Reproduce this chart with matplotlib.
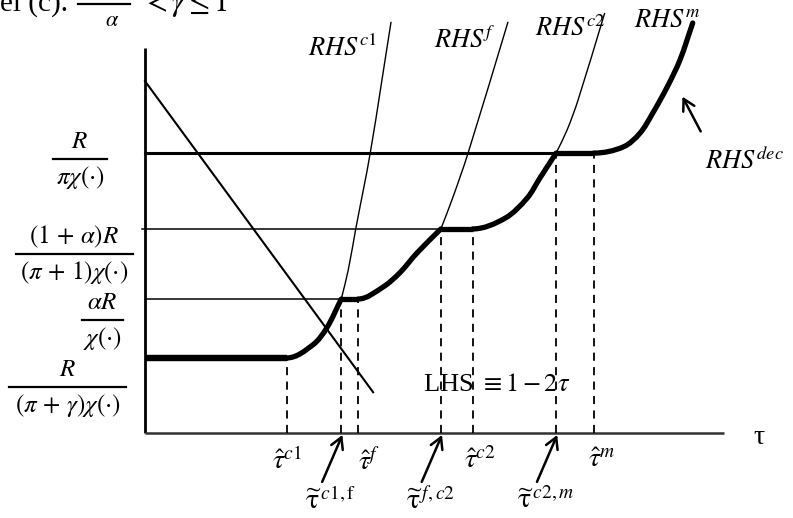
import numpy as np
import matplotlib.pyplot as plt
from matplotlib.path import Path
from matplotlib.patches import PathPatch

plt.rcParams['mathtext.fontset'] = 'stix'
plt.rcParams['font.family'] = ['Liberation Serif', 'DejaVu Serif']

# levels on the vertical axis, bottom to top
level_num = ['$R$', r'$\alpha R$', r'$(1\,+\,\alpha)R$', '$R$']
level_den = [r'$(\pi\,+\,\gamma)\chi(\cdot)$', r'$\chi(\cdot)$',
             r'$(\pi\,+\,1)\chi(\cdot)$', r'$\pi\chi(\cdot)$']
levels = [0.195, 0.348, 0.530, 0.727]

# thresholds on the tau axis
tau_hat = [0.245, 0.368, 0.566, 0.775]
tau_hat_tags = ['c1', 'f', 'c2', 'm']
tau_tilde = [0.339, 0.511, 0.710]
tau_tilde_tags = [r'c1,\mathrm{f}', 'f,c2', 'c2,m']

# LHS = 1 - 2 tau
lhs_tau = [0.0, 0.394]
lhs_val = [0.914, 0.106]

# RHS curves, read along each curve from where it leaves its plateau
rhs_c1_tau = [0.245, 0.290, 0.314, 0.339, 0.351, 0.364, 0.389, 0.425]
rhs_c1_val = [0.195, 0.229, 0.273, 0.348, 0.423, 0.530, 0.727, 1.068]
rhs_f_tau = [0.368, 0.411, 0.440, 0.470, 0.511, 0.532, 0.558, 0.627]
rhs_f_val = [0.348, 0.379, 0.416, 0.468, 0.530, 0.613, 0.727, 1.068]
rhs_c2_tau = [0.566, 0.622, 0.660, 0.682, 0.710, 0.729, 0.748, 0.794]
rhs_c2_val = [0.530, 0.558, 0.610, 0.662, 0.727, 0.787, 0.865, 1.091]
rhs_m_tau = [0.775, 0.826, 0.855, 0.877, 0.902, 0.924, 0.946]
rhs_m_val = [0.727, 0.743, 0.779, 0.831, 0.899, 0.969, 1.065]

# pixels per data unit, so tangents are taken in screen space
SCALE = np.array([579.0, 385.0])


def curve_path(xs, ys, flat_start):
    # cubic bezier pieces through the points; optionally leave the plateau flat
    p = np.column_stack([xs, ys]) * SCALE
    d = np.zeros_like(p)
    d[1:-1] = p[2:] - p[:-2]
    d[0] = [1.0, 0.0] if flat_start else p[1] - p[0]
    d[-1] = p[-1] - p[-2]
    d /= np.linalg.norm(d, axis=1)[:, None]
    verts = [p[0]]
    codes = [Path.MOVETO]
    for i in range(len(p) - 1):
        seg = np.linalg.norm(p[i + 1] - p[i]) / 3
        verts += [p[i] + d[i] * seg, p[i + 1] - d[i + 1] * seg, p[i + 1]]
        codes += [Path.CURVE4] * 3
    return Path(np.array(verts) / SCALE, codes)


fig = plt.figure(figsize=(7.93, 5.18), dpi=100)
ax = fig.add_axes([0, 0, 1, 1])
ax.set_xlim(-0.2504, 1.1192)
ax.set_ylim(-0.2208, 1.1247)
ax.axis('off')

# axes
ax.plot([0, 0], [0, 1], color='black', lw=2.0, solid_capstyle='butt')
ax.plot([0, 1.0], [0, 0], color='#333333', lw=1.8, solid_capstyle='butt')
ax.text(1.06, -0.013, 'τ', fontsize=20, ha='center', va='center')

# horizontal level lines
ax.plot([0, tau_tilde[0]], [levels[1]] * 2, color='black', lw=1.1)
ax.plot([-0.006, tau_tilde[1]], [levels[2]] * 2, color='black', lw=1.1)
ax.plot([0, tau_tilde[2]], [levels[3]] * 2, color='black', lw=2.2)

# LHS
ax.plot(lhs_tau, lhs_val, color='black', lw=1.5)

# dashed drop lines
drops = list(zip(tau_hat, levels)) + list(zip(tau_tilde, levels[1:]))
for t, lv in drops:
    ax.plot([t, t], [0, lv], color='black', lw=1.3, ls=(0, (4.5, 3.5)))

# RHS curves: thick up to the crossing, thin beyond
curves = [(rhs_c1_tau, rhs_c1_val, 3), (rhs_f_tau, rhs_f_val, 4),
          (rhs_c2_tau, rhs_c2_val, 4), (rhs_m_tau, rhs_m_val, len(rhs_m_tau) - 1)]
for xs, ys, k in curves:
    ax.add_patch(PathPatch(curve_path(xs[:k + 1], ys[:k + 1], True), fill=False,
                           lw=3.8, capstyle='round', joinstyle='round'))
    if k < len(xs) - 1:
        ax.add_patch(PathPatch(curve_path(xs[k:], ys[k:], False), fill=False, lw=1.0))

# plateaus of RHS^dec
starts = [0] + tau_tilde
for a, b, lv in zip(starts, tau_hat, levels):
    ax.plot([a, b], [lv, lv], color='black', lw=3.8 if a > 0 else 4.6,
            solid_capstyle='butt')

# curve labels
ax.text(0.342, 1.0, '$RHS^{c1}$', fontsize=19, ha='center', va='center')
ax.text(0.553, 1.021, '$RHS^{f}$', fontsize=19, ha='center', va='center')
ax.text(0.734, 1.052, '$RHS^{c2}$', fontsize=19, ha='center', va='center')
ax.text(0.903, 1.070, '$RHS^{m}$', fontsize=19, ha='center', va='center')
ax.text(0.968, 0.709, '$RHS^{dec}$', fontsize=19, ha='left', va='center')
ax.annotate('', xy=(0.926, 0.880), xytext=(0.962, 0.777),
            arrowprops=dict(arrowstyle='->,head_length=0.8,head_width=0.45', lw=1.8))
ax.text(0.608, 0.125, r'LHS $\equiv 1 - 2\tau$', fontsize=19, ha='center', va='center')

# tau labels
hat_shift = [0.0, 0.019, 0.012, 0.014]
for t, tag, s in zip(tau_hat, tau_hat_tags, hat_shift):
    ax.text(t + s, -0.072, r'$\hat{\tau}^{%s}$' % tag,
            fontsize=20, ha='center', va='center')
for t, tag in zip(tau_tilde, tau_tilde_tags):
    ax.text(t - 0.018, -0.176, r'$\widetilde{\mathrm{\tau}}^{\,%s}$' % tag,
            fontsize=20, ha='center', va='center')
    ax.annotate('', xy=(t + 0.002, -0.005), xytext=(t - 0.033, -0.127),
                arrowprops=dict(arrowstyle='->,head_length=0.8,head_width=0.45',
                                lw=1.8, shrinkA=0, shrinkB=0))

# vertical axis labels as stacked fractions
lab_x = [67.5, 102.5, 74.5, 80]
bar_w = [117, 41, 117, 54]
bar_y = [387, 320, 254, 159]
for num, den, cx, w, by in zip(level_num, level_den, lab_x, bar_w, bar_y):
    x0 = (cx - 145) / 579
    v = (433 - by) / 385
    ax.plot([(cx - w / 2 - 145) / 579, (cx + w / 2 - 145) / 579], [v, v],
            color='black', lw=1.6)
    ax.text(x0, v + 0.045, num, fontsize=18, ha='center', va='center')
    ax.text(x0, v - 0.047, den, fontsize=18, ha='center', va='center')

# heading, cut at the top edge
ax.text(-0.250, (433 - 11) / 385, 'el (c).', fontsize=21, ha='left', va='baseline')
ax.plot([(78 - 145) / 579, (130 - 145) / 579], [(433 - 4) / 385] * 2, color='black', lw=1.6)
ax.text((112 - 145) / 579, (433 - 21) / 385, r'$\alpha$', fontsize=16, ha='center', va='center')
ax.text((142 - 145) / 579, (433 - 11) / 385, r'$<\gamma\leq 1$', fontsize=22,
        ha='left', va='baseline')

fig.savefig('out.png', dpi=100)
